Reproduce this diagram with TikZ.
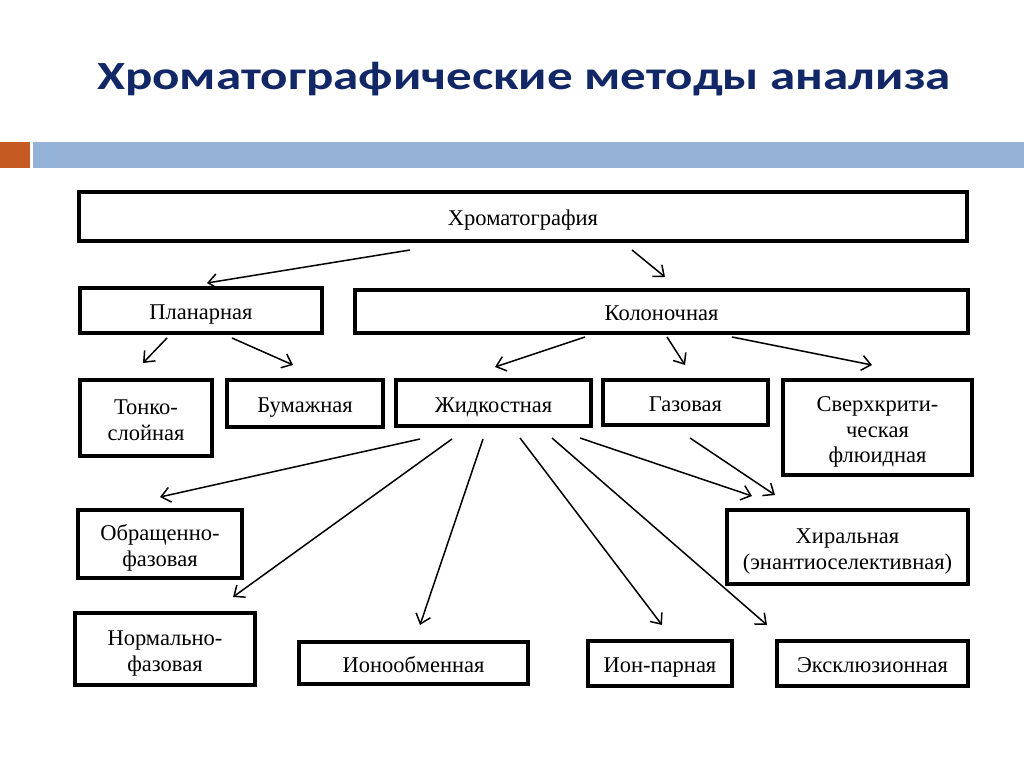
\documentclass[tikz,border=0pt]{standalone}
\usepackage{graphicx}
\usepackage{fontspec}
\setmainfont{Liberation Serif}
\newfontfamily\titlefont{Carlito}
\usetikzlibrary{arrows.meta}
\definecolor{titleblue}{RGB}{18,40,102}
\definecolor{barorange}{RGB}{197,90,35}
\definecolor{barblue}{RGB}{149,179,215}
\tikzset{
  box/.style={draw, line width=3.3pt, align=center, inner sep=0pt, font=\fontsize{22.5}{25.8}\selectfont, text depth=0pt},
  one/.style={text height=18pt},
  arr/.style={line width=1.5pt, -{Straight Barb[length=9pt,width=15pt,line width=1.5pt]}}
}
\newcommand{\bx}[6]{\node[box,one, minimum width={#4pt-#2pt}, minimum height={#5pt-#3pt}] (#1) at ({(#2+#4)/2},{(#3+#5)/2}) {#6};}
\newcommand{\bxm}[6]{\node[box, minimum width={#4pt-#2pt}, minimum height={#5pt-#3pt}] (#1) at ({(#2+#4)/2},{(#3+#5)/2}) {\rule{0pt}{19pt}#6};}
\begin{document}
\begin{tikzpicture}[x=1pt,y=-1pt]
\useasboundingbox[fill=white] (0,0) rectangle (1024,767);
% header
\node[font=\titlefont\fontsize{40}{44}\selectfont\bfseries, text=titleblue, anchor=base] (title) at (524,90) {\scalebox{1.275}[1]{Хроматографические методы анализа}};
\fill[barorange] (0,142) rectangle (30,168);
\fill[barblue] (33,142) rectangle (1024,168);
% boxes
\bx{chrom}{79}{192}{967}{241}{Хроматография}
\bx{plan}{80}{288}{322}{333}{Планарная}
\bx{kol}{355}{290}{968}{333}{Колоночная}
\bxm{tonk}{80}{380}{212}{456}{Тонко-\\слойная}
\bx{bum}{227}{380}{383}{427}{Бумажная}
\bx{zhid}{396}{380}{591}{426}{Жидкостная}
\bx{gaz}{603}{380}{768}{425}{Газовая}
\bxm{sverh}{783}{380}{972}{475}{Сверхкрити-\\ческая\\флюидная}
\bxm{obr}{78}{510}{242}{578}{Обращенно-\\фазовая}
\bxm{hir}{727}{510}{968}{584}{Хиральная\\(энантиоселективная)}
\bxm{norm}{75}{613}{255}{685}{Нормально-\\фазовая}
\bx{ionob}{299}{642}{528}{684}{Ионообменная}
\bx{ionpar}{588}{641}{732}{686}{Ион-парная}
\bx{eksk}{777}{641}{968}{686}{Эксклюзионная}
% arrow end points
\coordinate (c1s) at (410,250); \coordinate (c1e) at (207,283);
\coordinate (c2s) at (632,250); \coordinate (c2e) at (665,277);
\coordinate (p1s) at (167,338); \coordinate (p1e) at (143,363);
\coordinate (p2s) at (232,338); \coordinate (p2e) at (293,365);
\coordinate (k1s) at (585,337); \coordinate (k1e) at (495,367);
\coordinate (k2s) at (667,337); \coordinate (k2e) at (685,365);
\coordinate (k3s) at (732,337); \coordinate (k3e) at (872,365);
\coordinate (z1s) at (420,439); \coordinate (z1e) at (160,497);
\coordinate (z2s) at (452,439); \coordinate (z2e) at (233,597);
\coordinate (z3s) at (483,439); \coordinate (z3e) at (420,625);
\coordinate (z4s) at (520,438); \coordinate (z4e) at (662,625);
\coordinate (z5s) at (552,438); \coordinate (z5e) at (767,625);
\coordinate (z6s) at (580,438); \coordinate (z6e) at (752,496);
\coordinate (g1s) at (690,438); \coordinate (g1e) at (775,495);
% arrows
\draw[arr] (c1s) -- (c1e);
\draw[arr] (c2s) -- (c2e);
\draw[arr] (p1s) -- (p1e);
\draw[arr] (p2s) -- (p2e);
\draw[arr] (k1s) -- (k1e);
\draw[arr] (k2s) -- (k2e);
\draw[arr] (k3s) -- (k3e);
\draw[arr] (z1s) -- (z1e);
\draw[arr] (z2s) -- (z2e);
\draw[arr] (z3s) -- (z3e);
\draw[arr] (z4s) -- (z4e);
\draw[arr] (z5s) -- (z5e);
\draw[arr] (z6s) -- (z6e);
\draw[arr] (g1s) -- (g1e);
\end{tikzpicture}
\end{document}
